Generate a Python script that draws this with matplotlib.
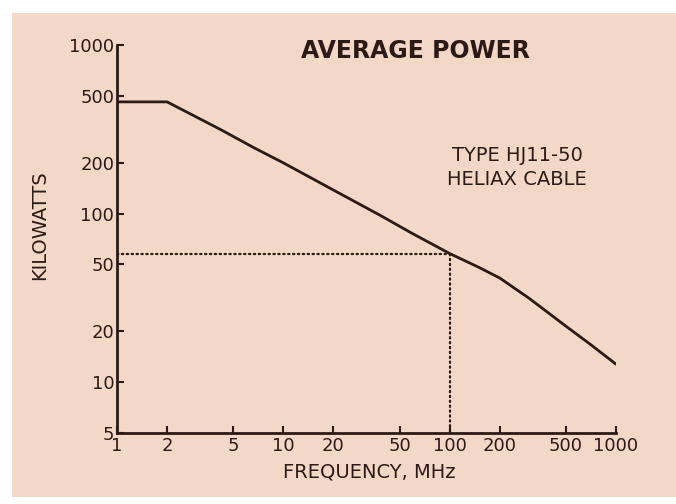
import matplotlib
matplotlib.use("Agg")
from matplotlib import pyplot as plt
from matplotlib.patches import Rectangle

# power rating vs frequency
freq = [1, 2, 4.2, 6.6, 10, 20, 38, 60, 100, 150, 200, 300, 500, 700, 1000]
kilowatts = [460, 460, 315, 247, 200, 138, 98, 76, 58, 48, 41.5, 31.5, 21.5, 16.8, 12.8]

# marked operating point
mark_freq = 100
mark_kw = 58

xticks = [1, 2, 5, 10, 20, 50, 100, 200, 500, 1000]
yticks = [5, 10, 20, 50, 100, 200, 500, 1000]

ink = "#2b1a15"
paper = "#f3d8c8"

fig = plt.figure(figsize=(6.76, 5.04), dpi=100, facecolor="white")
fig.patches.append(Rectangle((0.018, 0.014), 0.982, 0.96, transform=fig.transFigure,
                             facecolor=paper, edgecolor="none", zorder=-10))

ax = fig.add_axes([0.1731, 0.1409, 0.7381, 0.7698])
ax.set_facecolor("none")
ax.set_xscale("log")
ax.set_yscale("log")
ax.set_xlim(1, 1000)
ax.set_ylim(5, 1000)

ax.plot(freq, kilowatts, color=ink, lw=2.0, solid_capstyle="round",
        solid_joinstyle="round", zorder=3)
ax.plot([1, mark_freq], [mark_kw, mark_kw], color=ink, lw=1.6, ls=(0, (0.6, 1.6)),
        dash_capstyle="round", zorder=2)
ax.plot([mark_freq, mark_freq], [mark_kw, 5], color=ink, lw=1.6, ls=(0, (0.6, 1.6)),
        dash_capstyle="round", zorder=2)

for side in ["top", "right"]:
    ax.spines[side].set_visible(False)
for side in ["left", "bottom"]:
    ax.spines[side].set_color(ink)
    ax.spines[side].set_linewidth(2.0)

ax.set_xticks(xticks)
ax.set_xticklabels([str(t) for t in xticks])
ax.set_yticks(yticks)
ax.set_yticklabels([str(t) for t in yticks])
ax.minorticks_off()
ax.tick_params(direction="in", length=5, width=1.5, color=ink, labelcolor=ink,
               labelsize=13, pad=3)
ax.tick_params(axis="y", pad=2)

fig.text(0.614, 0.899, "AVERAGE POWER", ha="center", va="center",
         fontsize=17, fontweight="bold", color=ink)
fig.text(0.765, 0.692, "TYPE HJ11-50", ha="center", va="center",
         fontsize=14, color=ink)
fig.text(0.765, 0.643, "HELIAX CABLE", ha="center", va="center",
         fontsize=14, color=ink)
fig.text(0.059, 0.553, "KILOWATTS", rotation=90, ha="center", va="center",
         fontsize=14, color=ink)
fig.text(0.547, 0.063, "FREQUENCY, MHz", ha="center", va="center",
         fontsize=14, color=ink)

plt.savefig("out.png", dpi=100, facecolor=fig.get_facecolor())
